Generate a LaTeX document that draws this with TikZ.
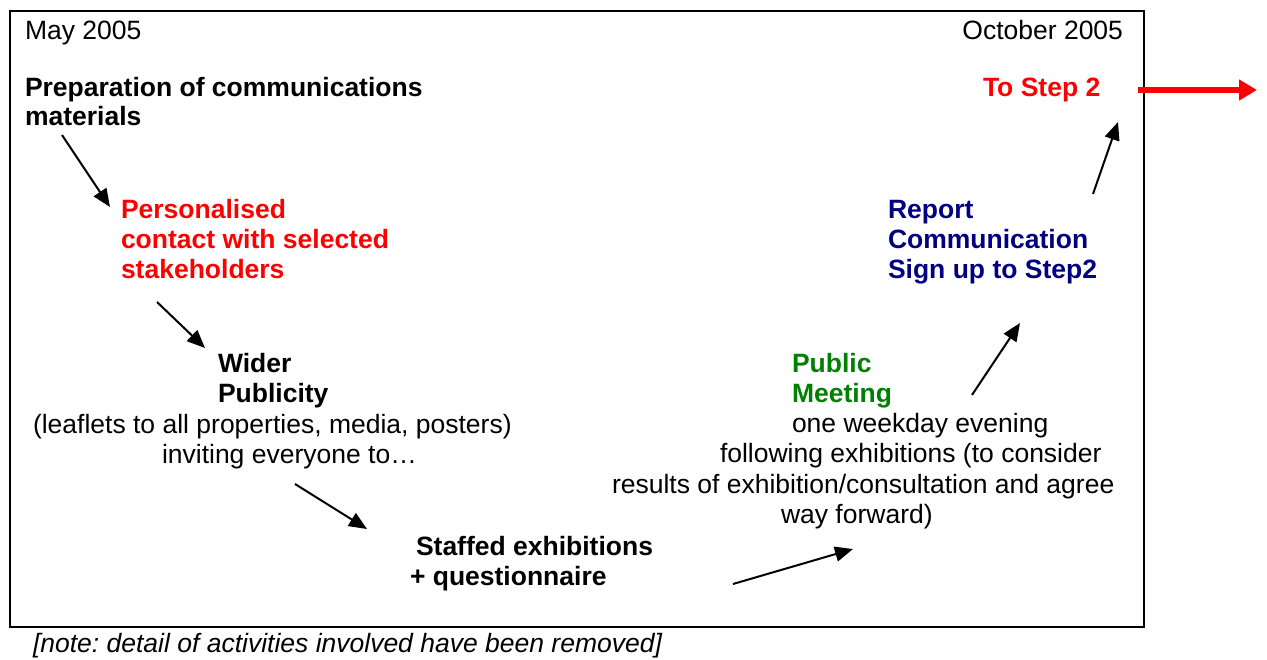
\documentclass[tikz,border=0pt]{standalone}
\usepackage{fontspec}
\setmainfont{Liberation Sans}
\usetikzlibrary{arrows.meta}
\definecolor{stepred}{RGB}{255,0,0}
\definecolor{reportblue}{RGB}{0,0,128}
\definecolor{meetgreen}{RGB}{0,128,0}
\frenchspacing
\begin{document}
\begin{tikzpicture}[x=1pt,y=-1pt,
  every node/.style={inner sep=0pt, outer sep=0pt, anchor=base west,
    font=\fontsize{26.5}{30}\selectfont},
  bold/.style={font=\fontsize{26.5}{30}\selectfont\bfseries},
  flow/.style={line width=2pt, -{Triangle[length=18pt,width=15pt]}},
]
\useasboundingbox (0,0) rectangle (1267,659);
% frame of the timeline
\draw[line width=2pt] (10,11) rectangle (1144,627);

% dates
\node (may) at (25,39) {May 2005};
\node[anchor=base east] (oct) at (1123,39) {October 2005};

% stage 1
\node[bold] (prepA) at (25,96) {Preparation of communications};
\node[bold] (prepB) at (25,125) {materials};

% stage 2
\node[bold, stepred] (persA) at (121,218) {Personalised};
\node[bold, stepred] (persB) at (121,248) {contact with selected};
\node[bold, stepred] (persC) at (121,278) {stakeholders};

% stage 3
\node[bold] (widA) at (218,372) {Wider};
\node[bold] (widB) at (218,402) {Publicity};
\node (widC) at (33,433) {(leaflets to all properties, media, posters)};
\node (widD) at (162,463) {inviting everyone to…};

% stage 4
\node[bold] (exhA) at (416,555) {Staffed exhibitions};
\node[bold] (exhB) at (410,585) {+ questionnaire};

% stage 5
\node[bold, meetgreen] (pubA) at (792,372) {Public};
\node[bold, meetgreen] (pubB) at (792,402) {Meeting};
\node (pubC) at (792,432) {one weekday evening};
\node (pubD) at (720,462) {following exhibitions (to consider};
\node (pubE) at (612,493) {results of exhibition/consultation and agree};
\node (pubF) at (781,523) {way forward)};

% stage 6
\node[bold, reportblue] (repA) at (888,218) {Report};
\node[bold, reportblue] (repB) at (888,248) {Communication};
\node[bold, reportblue] (repC) at (888,278) {Sign up to Step2};

% exit
\node[bold, stepred] (next) at (983,96) {To Step 2};

% note under the frame
\node[font=\fontsize{26.5}{30}\selectfont\itshape] (note) at (33,652)
  {[note: detail of activities involved have been removed]};

% arrow end points
\coordinate (a1s) at (62,135);   \coordinate (a1e) at (110,207);
\coordinate (a2s) at (157,302);  \coordinate (a2e) at (205,348);
\coordinate (a3s) at (295,484);  \coordinate (a3e) at (367,529);
\coordinate (a4s) at (733,584);  \coordinate (a4e) at (853,549);
\coordinate (a5s) at (972,395);  \coordinate (a5e) at (1020,323);
\coordinate (a6s) at (1093,194); \coordinate (a6e) at (1118,122);
\coordinate (outs) at (1138,90); \coordinate (oute) at (1257,90);

\draw[flow] (a1s) -- (a1e);
\draw[flow] (a2s) -- (a2e);
\draw[flow] (a3s) -- (a3e);
\draw[flow] (a4s) -- (a4e);
\draw[flow] (a5s) -- (a5e);
\draw[flow] (a6s) -- (a6e);
\draw[stepred, line width=6pt, -{Triangle[length=18pt,width=20pt]}] (outs) -- (oute);
\end{tikzpicture}
\end{document}
